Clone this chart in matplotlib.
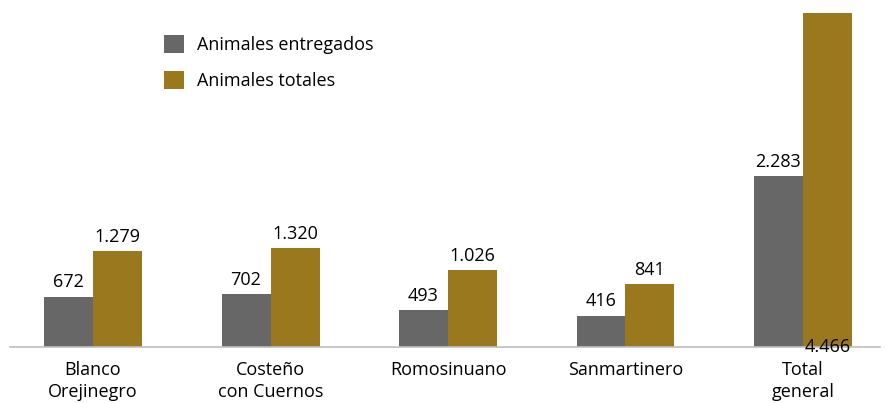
import matplotlib
matplotlib.use("Agg")
import matplotlib.pyplot as plt
import numpy as np

categories = ["Blanco\nOrejinegro", "Costeño\ncon Cuernos", "Romosinuano", "Sanmartinero", "Total\ngeneral"]
entregados = [672, 702, 493, 416, 2283]
totales = [1279, 1320, 1026, 841, 4466]
series_names = ["Animales entregados", "Animales totales"]

plt.rcParams['font.family'] = ['Open Sans', 'DejaVu Sans']

W, H = 886, 403
fig = plt.figure(figsize=(W/100, H/100), dpi=100)
ax = fig.add_axes([10/W, 56/H, 870/W, 334/H])

x = np.arange(len(categories))
bw = 0.276
c_gray = "#676767"
c_gold = "#9a781e"
b1 = ax.bar(x - bw/2, entregados, bw, color=c_gray, label=series_names[0])
b2 = ax.bar(x + bw/2, totales, bw, color=c_gold, label=series_names[1])

ax.set_xlim(-0.468, 4.434)
ax.set_ylim(0, 4466)

def fmt(v):
    return f"{v:,}".replace(",", ".")

fs = 13
for i, v in enumerate(entregados):
    ax.annotate(fmt(v), (x[i] - bw/2, v), xytext=(0, 4), textcoords="offset points",
                ha="center", va="bottom", fontsize=fs)
for i, v in enumerate(totales):
    if i == len(totales) - 1:
        ax.annotate(fmt(v), (x[i] + bw/2, 0), xytext=(0, 0), textcoords="offset points",
                    ha="center", va="center", fontsize=fs)
    else:
        ax.annotate(fmt(v), (x[i] + bw/2, v), xytext=(0, 4), textcoords="offset points",
                    ha="center", va="bottom", fontsize=fs)

for s in ["top", "right", "left"]:
    ax.spines[s].set_visible(False)
ax.spines["bottom"].set_color("#bfbfbf")
ax.spines["bottom"].set_linewidth(1.2)
ax.set_yticks([])
ax.set_xticks(x)
ax.set_xticklabels(categories, fontsize=fs, linespacing=1.32)
ax.tick_params(axis="x", length=0, pad=10)

leg = fig.legend(handles=[b1, b2], loc="upper left", bbox_to_anchor=(148/W, 1 - 19/H),
                 frameon=False, fontsize=fs, handlelength=1.1, handleheight=1.1,
                 labelspacing=0.95, handletextpad=0.7)

fig.savefig("out.png", dpi=100)
